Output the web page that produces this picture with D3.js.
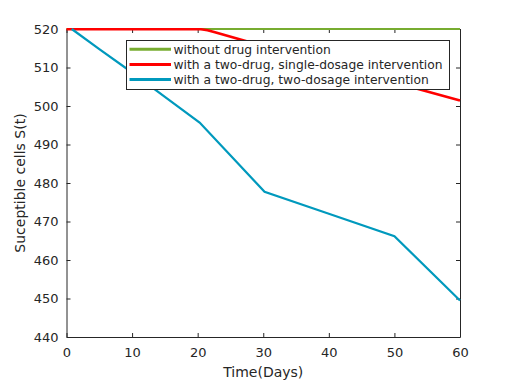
<!DOCTYPE html>
<html><head><meta charset="utf-8">
<script src="https://cdn.jsdelivr.net/npm/d3@7"></script>
<style>body{margin:0;background:#fff}svg{display:block}text{font-family:"DejaVu Sans",sans-serif;fill:#262626}</style>
</head><body><div id="c"></div>
<script>
const seriesNames = ["without drug intervention","with a two-drug, single-dosage intervention","with a two-drug, two-dosage intervention"];
const seriesColors = ["#77AC30","#FF0000","#0099BD"];
const tNoDrug = [0, 60];
const sNoDrug = [520, 520];
const tSingle = [0, 20.5, 21.5, 22.5, 30, 40, 50, 60];
const sSingle = [519.95, 519.95, 519.7, 519.2, 515.6, 510.9, 506.1, 501.4];
const tTwo = [0.8, 5, 10, 15, 20.3, 30.2, 40, 50, 60];
const sTwo = [520.0, 514.8, 508.7, 502.4, 495.7, 477.7, 472.0, 466.2, 449.5];
const xTicks = [0,10,20,30,40,50,60];
const yTicks = [440,450,460,470,480,490,500,510,520];
const xLabel = "Time(Days)", yLabel = "Suceptible cells S(t)";

const W=508,H=381, L=66.5, R=460, T=29, B=337;
const svg=d3.select("#c").append("svg").attr("width",W).attr("height",H);
const x=d3.scaleLinear().domain([0,60]).range([L,R]);
const y=d3.scaleLinear().domain([440,520]).range([B,T]);

const axCol="#262626";
function styleAxis(sel){sel.selectAll("path").attr("stroke",axCol);sel.selectAll("line").attr("stroke",axCol);sel.selectAll("text").attr("font-size","13px").attr("fill","#262626").style("font-family","DejaVu Sans");}
svg.append("g").attr("transform",`translate(0,${B})`).call(d3.axisBottom(x).tickValues(xTicks).tickSizeInner(-4).tickSizeOuter(0).tickPadding(8)).call(styleAxis).call(s=>s.selectAll("text").attr("dy","0.9em"));
svg.append("g").attr("transform",`translate(${L},0)`).call(d3.axisLeft(y).tickValues(yTicks).tickSizeInner(-4).tickSizeOuter(0).tickPadding(8)).call(styleAxis);
svg.append("g").attr("transform",`translate(0,${T})`).call(d3.axisTop(x).tickValues(xTicks).tickSizeInner(-4).tickSizeOuter(0).tickFormat("")).call(styleAxis);
svg.append("g").attr("transform",`translate(${R},0)`).call(d3.axisRight(y).tickValues(yTicks).tickSizeInner(-4).tickSizeOuter(0).tickFormat("")).call(styleAxis);

const series=[[tNoDrug,sNoDrug],[tSingle,sSingle],[tTwo,sTwo]];
const widths=[2,2.6,2.2];
const line=d3.line().x(d=>x(d[0])).y(d=>y(d[1]));
const g=svg.append("g");
series.forEach(([ts,vs],i)=>{
  g.append("path").datum(ts.map((t,j)=>[t,vs[j]])).attr("d",line)
   .attr("fill","none").attr("stroke",seriesColors[i]).attr("stroke-width",widths[i]);
});

svg.append("text").attr("x",(L+R)/2).attr("y",377).attr("text-anchor","middle").attr("font-size","14px").text(xLabel);
svg.append("text").attr("transform",`translate(25,${(T+B)/2}) rotate(-90)`).attr("text-anchor","middle").attr("font-size","14px").text(yLabel);

const lg=svg.append("g");
lg.append("rect").attr("x",126.5).attr("y",40.5).attr("width",323).attr("height",49).attr("fill","#fff").attr("stroke",axCol).attr("stroke-width",1);
const rows=[49.3,64.5,79.5];
seriesNames.forEach((n,i)=>{
  lg.append("line").attr("x1",129.5).attr("x2",171).attr("y1",rows[i]).attr("y2",rows[i]).attr("stroke",seriesColors[i]).attr("stroke-width",3);
  lg.append("text").attr("x",173.5).attr("y",rows[i]).attr("dy","0.35em").attr("font-size","12.3px").text(n);
});
</script></body></html>
